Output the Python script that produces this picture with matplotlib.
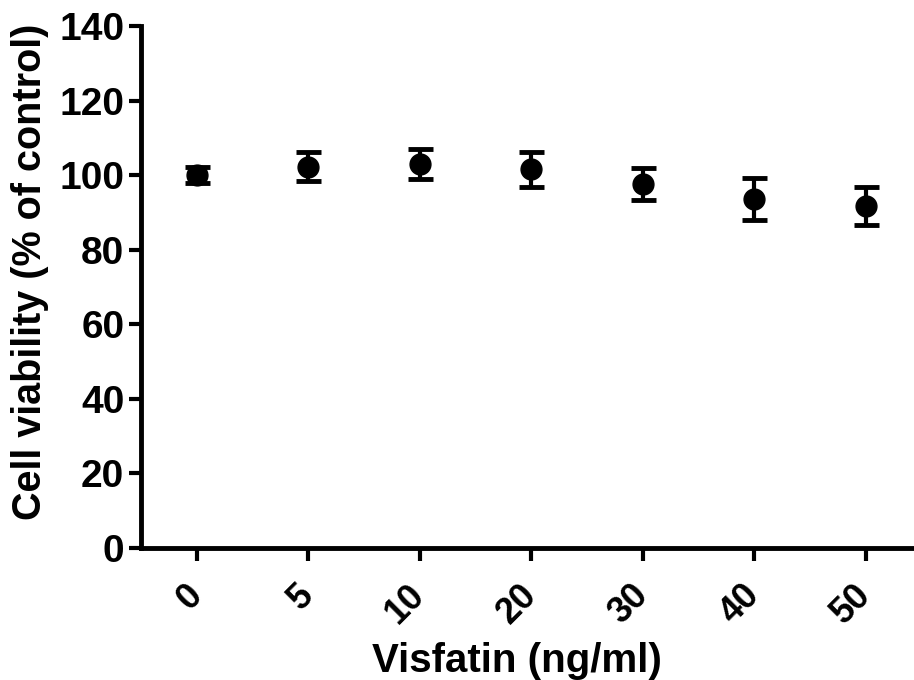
import numpy as np
import matplotlib
matplotlib.use("Agg")
import matplotlib.pyplot as plt

# data
doses = ["0", "5", "10", "20", "30", "40", "50"]
viability = [100.0, 102.3, 103.0, 101.6, 97.5, 93.7, 91.7]
sem = [2.1, 4.0, 4.0, 4.7, 4.3, 5.6, 5.2]

plt.rcParams["font.family"] = ["Liberation Sans", "DejaVu Sans"]
plt.rcParams["font.weight"] = "bold"

fig = plt.figure(figsize=(9.14, 6.8), dpi=100)
ax = fig.add_axes([141 / 914, 1 - 548 / 680, 1 - 141 / 914, (548 - 26) / 680])

x = np.arange(len(doses))
ax.errorbar(x, viability, yerr=sem, fmt="o", color="black", ms=15,
            elinewidth=3, capsize=9, capthick=3.5, zorder=3)

ax.set_xlim(-0.5, 6.43)
ax.set_ylim(0, 140)
ax.set_yticks(range(0, 141, 20))
ax.set_xticks(x)
ax.set_xticklabels(doses, rotation=45, ha="right", va="center",
                   rotation_mode="anchor", fontsize=26)

for s in ["top", "right"]:
    ax.spines[s].set_visible(False)
for s in ["left", "bottom"]:
    ax.spines[s].set_linewidth(3.5)
ax.tick_params(axis="both", width=3, length=9)
ax.tick_params(axis="y", pad=3, labelsize=28)
ax.tick_params(axis="x", pad=21)

ax.set_xlabel("Visfatin (ng/ml)", fontsize=29, fontweight="bold")
ax.xaxis.set_label_coords(0.486, -0.18)
ax.set_ylabel("Cell viability (% of control)", fontsize=28.5, fontweight="bold")
ax.yaxis.set_label_coords(-0.119, 0.529)

fig.savefig("out.png", dpi=100)
